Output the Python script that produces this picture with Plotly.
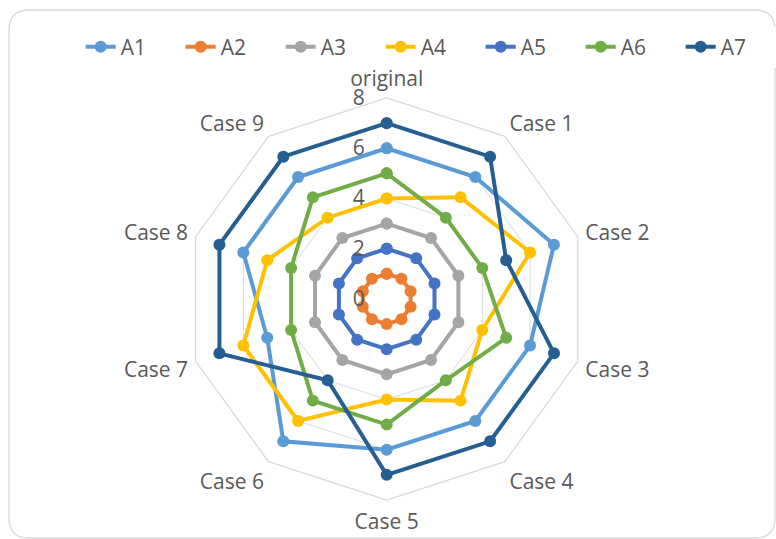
import plotly.graph_objects as go

categories = ["original", "Case 1", "Case 2", "Case 3", "Case 4",
              "Case 5", "Case 6", "Case 7", "Case 8", "Case 9"]
series_names = ["A1", "A2", "A3", "A4", "A5", "A6", "A7"]
A1 = [6, 6, 7, 6, 6, 6, 7, 5, 6, 6]
A2 = [1, 1, 1, 1, 1, 1, 1, 1, 1, 1]
A3 = [3, 3, 3, 3, 3, 3, 3, 3, 3, 3]
A4 = [4, 5, 6, 4, 5, 4, 6, 6, 5, 4]
A5 = [2, 2, 2, 2, 2, 2, 2, 2, 2, 2]
A6 = [5, 4, 4, 5, 4, 5, 5, 4, 4, 5]
A7 = [7, 7, 5, 7, 7, 7, 4, 7, 7, 7]
colors = ["#5B9BD5", "#ED7D31", "#A5A5A5", "#FFC000", "#4472C4", "#70AD47", "#255E91"]
radial_ticks = [0, 2, 4, 6, 8]

W, H = 776, 539
FONT = "Open Sans"
TXT = "#595959"
FS = 21

fig = go.Figure()
for name, vals, col in zip(series_names, [A1, A2, A3, A4, A5, A6, A7], colors):
    fig.add_trace(go.Scatterpolar(
        r=vals + vals[:1], theta=categories + categories[:1],
        mode="lines+markers", name=name,
        line=dict(color=col, width=4),
        marker=dict(color=col, size=12),
    ))

# polar geometry: center (386.7, 299), radius 201 px
cx, cy, R = 386.7, 299, 201
fig.update_layout(
    width=W, height=H,
    margin=dict(l=0, r=0, t=0, b=0, autoexpand=False),
    paper_bgcolor="white",
    font=dict(family=FONT, size=FS, color=TXT),
    polar=dict(
        domain=dict(x=[(cx - R) / W, (cx + R) / W], y=[1 - (cy + R) / H, 1 - (cy - R) / H]),
        bgcolor="white",
        gridshape="linear",
        radialaxis=dict(range=[0, 8], tickvals=radial_ticks, angle=90, tickangle=90,
                        showline=False, ticks="outside", ticklen=14,
                        tickcolor="rgba(0,0,0,0)", gridcolor="#D9D9D9", gridwidth=1.3,
                        tickfont=dict(size=FS, color=TXT), side="counterclockwise"),
        angularaxis=dict(direction="clockwise", rotation=90, showgrid=False,
                         linecolor="#D9D9D9", linewidth=1.3, ticks="outside", ticklen=3,
                         tickcolor="rgba(0,0,0,0)",
                         tickfont=dict(size=FS, color=TXT)),
    ),
    legend=dict(orientation="h", x=0.555, xanchor="center", y=1 - 47 / H, yanchor="middle",
                font=dict(size=FS, color=TXT), entrywidth=55, entrywidthmode="pixels",
                traceorder="normal"),
)

# rounded chart border
x0, y0, x1, y1, rr = 9, 10, 775, 538, 20
def px(x): return x / W
def py(y): return 1 - y / H
path = (f"M {px(x0+rr)},{py(y0)} L {px(x1-rr)},{py(y0)} Q {px(x1)},{py(y0)} {px(x1)},{py(y0+rr)} "
        f"L {px(x1)},{py(y1-rr)} Q {px(x1)},{py(y1)} {px(x1-rr)},{py(y1)} "
        f"L {px(x0+rr)},{py(y1)} Q {px(x0)},{py(y1)} {px(x0)},{py(y1-rr)} "
        f"L {px(x0)},{py(y0+rr)} Q {px(x0)},{py(y0)} {px(x0+rr)},{py(y0)} Z")
fig.add_shape(type="path", xref="paper", yref="paper", path=path,
              line=dict(color="#D9D9D9", width=1.3), layer="below")

fig.write_html("out.html")
